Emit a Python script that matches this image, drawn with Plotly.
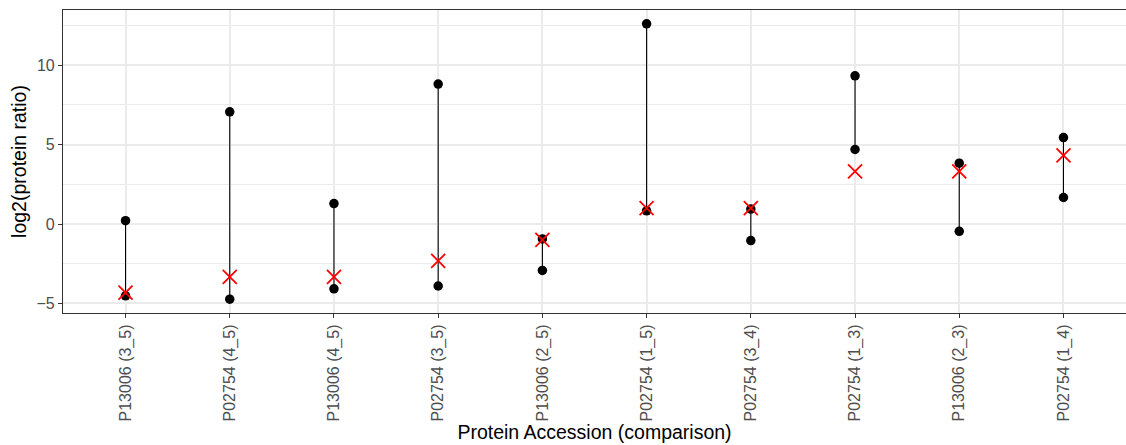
import plotly.graph_objects as go

# Comparisons along the x axis
comparisons = ["P13006 (3_5)", "P02754 (4_5)", "P13006 (4_5)", "P02754 (3_5)",
               "P13006 (2_5)", "P02754 (1_5)", "P02754 (3_4)", "P02754 (1_3)",
               "P13006 (2_3)", "P02754 (1_4)"]
# Observed log2 ratios: upper and lower estimates
upper = [0.21, 7.06, 1.29, 8.81, -0.94, 12.6, 0.94, 9.33, 3.83, 5.44]
lower = [-4.52, -4.73, -4.08, -3.9, -2.92, 0.83, -1.04, 4.69, -0.46, 1.67]
# Expected log2 ratios
expected = [-4.32, -3.32, -3.32, -2.32, -1.0, 1.0, 1.0, 3.32, 3.32, 4.32]

xpos = list(range(len(comparisons)))

seg_x, seg_y = [], []
for i, (u, l) in enumerate(zip(upper, lower)):
    seg_x += [i, i, None]
    seg_y += [l, u, None]

fig = go.Figure()
fig.add_trace(go.Scatter(x=seg_x, y=seg_y, mode="lines",
                         line=dict(color="black", width=1.1), hoverinfo="skip"))
fig.add_trace(go.Scatter(x=xpos + xpos, y=upper + lower, mode="markers",
                         marker=dict(color="black", size=9.5)))
fig.add_trace(go.Scatter(x=xpos, y=expected, mode="markers",
                         marker=dict(symbol="x-thin", size=14, color="red",
                                     line=dict(color="red", width=1.8))))

font = "Liberation Sans, Arial, sans-serif"
fig.update_layout(
    width=1126, height=445,
    margin=dict(l=63, r=0, t=10, b=132),
    paper_bgcolor="white", plot_bgcolor="white",
    showlegend=False,
    font=dict(family=font, color="black"),
    xaxis=dict(
        tickmode="array", tickvals=xpos, ticktext=comparisons,
        range=[-0.6, len(comparisons) - 0.4],
        tickangle=-90, tickfont=dict(size=16, color="#4d4d4d"),
        ticks="outside", ticklen=4, tickcolor="#333333",
        showgrid=True, gridcolor="#ebebeb", gridwidth=1.5,
        showline=True, linecolor="#333333", linewidth=1.2, mirror=True,
        zeroline=False,
        title=dict(text="Protein Accession (comparison)",
                   font=dict(size=19.5, color="black"), standoff=2),
    ),
    yaxis=dict(
        range=[-5.6, 13.47],
        tickvals=[-5, 0, 5, 10], ticktext=["\u22125", "0", "5", "10"],
        tickfont=dict(size=16, color="#4d4d4d"),
        ticks="outside", ticklen=4, tickcolor="#333333",
        showgrid=True, gridcolor="#ebebeb", gridwidth=1.5,
        minor=dict(tickvals=[-2.5, 2.5, 7.5, 12.5], showgrid=True,
                   gridcolor="#ebebeb", gridwidth=0.8, ticks=""),
        showline=True, linecolor="#333333", linewidth=1.2, mirror=False,
        zeroline=False,
        title=dict(text="log2(protein ratio)", font=dict(size=19.5, color="black"),
                   standoff=4),
    ),
)

fig.write_html("out.html")
